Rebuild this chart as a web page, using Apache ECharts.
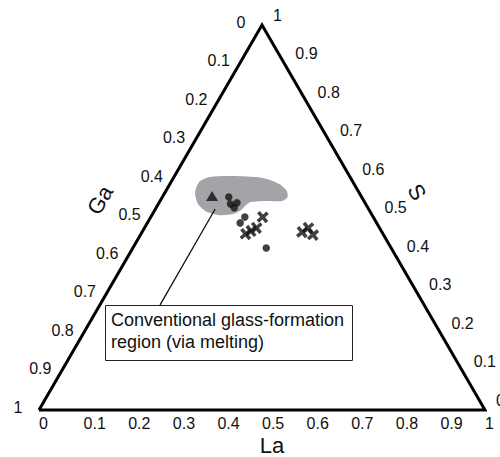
<!DOCTYPE html>
<html>
<head>
<meta charset="utf-8">
<script src="https://cdn.jsdelivr.net/npm/echarts@6/dist/echarts.min.js"></script>
<style>html,body{margin:0;padding:0;background:#fff}#c{width:500px;height:457px}</style>
</head>
<body>
<div id="c"></div>
<script>
// ---- data (ternary fractions: La, Ga, S) ----
const tickValues = [0, 0.1, 0.2, 0.3, 0.4, 0.5, 0.6, 0.7, 0.8, 0.9, 1];
const tickLabels = ['0', '0.1', '0.2', '0.3', '0.4', '0.5', '0.6', '0.7', '0.8', '0.9', '1'];

// conventional glass-formation region outline
const regionLa = [0.068, 0.063, 0.080, 0.124, 0.186, 0.221, 0.251, 0.271, 0.281, 0.274, 0.236, 0.205, 0.197, 0.193, 0.180, 0.153, 0.120, 0.089];
const regionGa = [0.368, 0.345, 0.315, 0.268, 0.209, 0.182, 0.165, 0.160, 0.166, 0.183, 0.221, 0.255, 0.273, 0.288, 0.311, 0.341, 0.366, 0.376];
const regionS  = [0.564, 0.592, 0.605, 0.608, 0.605, 0.597, 0.584, 0.569, 0.553, 0.543, 0.543, 0.540, 0.530, 0.519, 0.509, 0.506, 0.514, 0.535];

const triLa = [0.110];
const triGa = [0.334];
const triS  = [0.556];

const dotLa = [0.149, 0.162, 0.175, 0.175, 0.211, 0.208, 0.299];
const dotGa = [0.298, 0.303, 0.287, 0.300, 0.288, 0.306, 0.280];
const dotS  = [0.553, 0.535, 0.538, 0.525, 0.501, 0.486, 0.421];

const crossLa = [0.251, 0.235, 0.243, 0.251, 0.359, 0.367, 0.387];
const crossGa = [0.248, 0.308, 0.292, 0.276, 0.179, 0.160, 0.158];
const crossS  = [0.501, 0.457, 0.465, 0.473, 0.462, 0.473, 0.455];

// leader line from region to the annotation box
const leaderLa = [0.134, 0.135];
const leaderGa = [0.344, 0.592];
const leaderS  = [0.522, 0.273];

// triangle vertices (Ga corner, La corner, S corner, back)
const frameLa = [0, 1, 0, 0];
const frameGa = [1, 0, 0, 1];
const frameS  = [0, 0, 1, 0];

// ---- ternary -> cartesian ----
const H = Math.sqrt(3) / 2;
function toXY(la, ga, s) {
  const t = la + ga + s;
  return [(la + s / 2) / t, (s * H) / t];
}
function pts(la, ga, s) { return la.map((v, i) => toXY(v, ga[i], s[i])); }

const FONT = 'Liberation Sans, Arial, sans-serif';

function tickSeries(points, dx, dy, align) {
  return {
    type: 'custom',
    coordinateSystem: 'cartesian2d',
    clip: false,
    silent: true,
    data: points.map((p, i) => [p[0], p[1], i]),
    renderItem: function (params, api) {
      const c = api.coord([api.value(0), api.value(1)]);
      return {
        type: 'text',
        x: c[0] + dx,
        y: c[1] + dy,
        style: {
          text: tickLabels[api.value(2)],
          font: '16px ' + FONT,
          fill: '#111',
          align: align,
          verticalAlign: 'middle'
        }
      };
    }
  };
}

const laTickPts = tickValues.map(v => toXY(v, 1 - v, 0));
const gaTickPts = tickValues.map(v => toXY(0, v, 1 - v));
const sTickPts  = tickValues.map(v => toXY(1 - v, 0, v));

const chart = echarts.init(document.getElementById('c'), null, { renderer: 'svg' });

chart.setOption({
  animation: false,
  backgroundColor: '#fff',
  grid: { left: 39, right: 15, top: 25, bottom: 47 },
  xAxis: { type: 'value', min: 0, max: 1, show: false },
  yAxis: { type: 'value', min: 0, max: H, show: false },
  series: [
    {
      type: 'custom',
      coordinateSystem: 'cartesian2d',
      silent: true,
      clip: false,
      data: [[0, 0]],
      renderItem: function (params, api) {
        const poly = pts(regionLa, regionGa, regionS).map(p => api.coord(p));
        return {
          type: 'polygon',
          shape: { points: poly, smooth: 0.25 },
          style: { fill: '#a3a4a7', stroke: null }
        };
      }
    },
    {
      type: 'line',
      data: pts(frameLa, frameGa, frameS),
      symbol: 'none',
      clip: false,
      silent: true,
      lineStyle: { color: '#000', width: 3, join: 'miter' }
    },
    {
      type: 'line',
      data: pts(leaderLa, leaderGa, leaderS),
      symbol: 'none',
      clip: false,
      silent: true,
      lineStyle: { color: '#111', width: 1.3 }
    },
    {
      type: 'scatter',
      data: pts(triLa, triGa, triS),
      symbol: 'triangle',
      symbolSize: [12, 10],
      itemStyle: { color: '#111' }
    },
    {
      type: 'scatter',
      data: pts(dotLa, dotGa, dotS),
      symbol: 'circle',
      symbolSize: 7.5,
      itemStyle: { color: '#111' }
    },
    {
      type: 'scatter',
      data: pts(crossLa, crossGa, crossS),
      symbol: 'path://M4,0h3v4h4v3h-4v4h-3v-4h-4v-3h4z',
      symbolSize: 13,
      symbolRotate: 40,
      itemStyle: { color: '#111' }
    },
    tickSeries(laTickPts, 0, 13, 'left'),
    tickSeries(gaTickPts, -21, -3, 'center'),
    tickSeries(sTickPts, 11, -10, 'left')
  ],
  graphic: [
    {
      type: 'rect',
      left: 105, top: 305,
      shape: { width: 247, height: 55 },
      style: { fill: '#fff', stroke: '#222', lineWidth: 1 }
    },
    {
      type: 'text',
      left: 111, top: 309,
      style: {
        text: 'Conventional glass-formation\nregion (via melting)',
        font: '18px ' + FONT,
        lineHeight: 22,
        fill: '#111'
      }
    },
    {
      type: 'text',
      x: 272, y: 445,
      style: { text: 'La', font: '22px ' + FONT, fill: '#111', align: 'center', verticalAlign: 'middle' }
    },
    {
      type: 'text',
      x: 100, y: 200,
      rotation: Math.PI / 3,
      style: { text: 'Ga', font: '22px ' + FONT, fill: '#111', align: 'center', verticalAlign: 'middle' }
    },
    {
      type: 'text',
      x: 417, y: 192,
      rotation: -Math.PI / 3,
      style: { text: 'S', font: '22px ' + FONT, fill: '#111', align: 'center', verticalAlign: 'middle' }
    }
  ]
});
</script>
</body>
</html>
